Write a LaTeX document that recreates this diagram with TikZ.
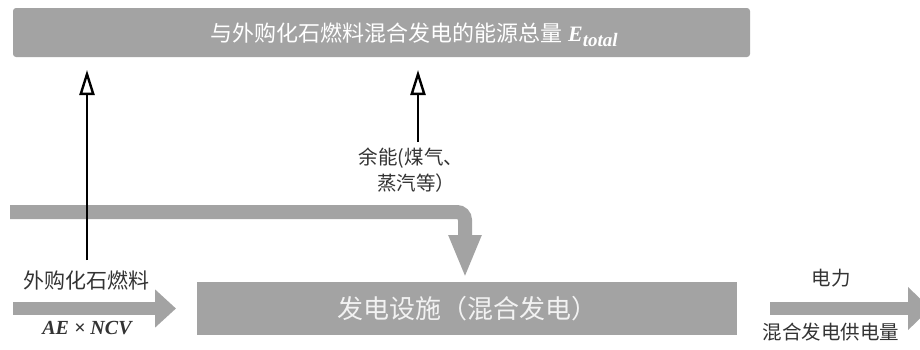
\documentclass[tikz,border=0pt]{standalone}
\usepackage{fontspec}
\setmainfont{Liberation Serif}
\newfontfamily\cjk{Noto Sans CJK SC}
\newfontfamily\tms{Liberation Serif}
\usetikzlibrary{arrows.meta}
\definecolor{boxgray}{HTML}{A3A3A3}
\definecolor{txtgray}{HTML}{333333}
\tikzset{
  graybox/.style={fill=boxgray, draw=none, inner sep=0pt},
  openarrow/.style={line width=2.6pt, black, -{Triangle[open, length=25pt, width=15pt, line width=2.4pt]}},
  fatarrow/.style={draw=boxgray, line width=13pt},
  lbl/.style={font=\cjk\fontsize{19.5}{26}\selectfont, text=txtgray, inner sep=0pt, align=center},
}
\begin{document}
\begin{tikzpicture}[x=1pt,y=-1pt]
\useasboundingbox (0,0) rectangle (920,349);
% top box
\node[graybox, rounded corners=3pt, minimum width=737pt, minimum height=49pt] (total) at (381.5,32.5) {};
\node[inner sep=0pt, text=white, anchor=base] (totaltext) at (414,41)
  {\cjk\fontsize{22}{24}\selectfont 与外购化石燃料混合发电的能源总量\hspace{6pt}{\tms\fontsize{22}{24}\selectfont\bfseries\itshape E\raisebox{-5pt}{\fontsize{19}{20}\selectfont total}}};
% main box
\node[graybox, minimum width=540pt, minimum height=53pt, text=white!95!black,
  font=\cjk\fontsize{26}{28}\selectfont] (plant) at (467,308.5) {发电设施（混合发电）};
% labels
\node[lbl, font=\cjk\fontsize{21}{24}\selectfont] (fuel) at (86,280) {外购化石燃料};
\node[inner sep=0pt, text=txtgray, font=\tms\fontsize{20}{24}\selectfont\bfseries\itshape] (aencv) at (87,328) {AE × NCV};
\node[lbl] (waste) at (411,170) {余能(煤气、\\ \hspace*{10pt}蒸汽等）};
\node[lbl] (power) at (831,278) {电力};
\node[lbl] (supply) at (831,332) {混合发电供电量};
% coordinates
\coordinate (fuelup0) at (87,260);
\coordinate (fuelup1) at (87,70);
\coordinate (wasteup0) at (418,142);
\coordinate (wasteup1) at (418,70);
\coordinate (band0) at (10,212);
\coordinate (bandc) at (465,212);
\coordinate (bandtip) at (465,278);
\coordinate (in0) at (13,308.5);
\coordinate (intip) at (176,308.5);
\coordinate (out0) at (770,308.5);
\coordinate (outtip) at (930,308.5);
% fat gray arrows
\draw[fatarrow, line width=14pt, rounded corners=8pt, -{Triangle[length=43pt, width=30pt]}] (band0) -- (bandc) -- (bandtip);
\draw[fatarrow, -{Triangle[length=21pt, width=37pt]}] (in0) -- (intip);
\draw[fatarrow, -{Triangle[length=22pt, width=42pt]}] (out0) -- (outtip);
% thin open arrows
\draw[openarrow] (fuelup0) -- (fuelup1);
\draw[openarrow] (wasteup0) -- (wasteup1);
\end{tikzpicture}
\end{document}
